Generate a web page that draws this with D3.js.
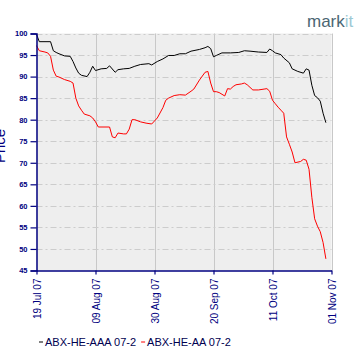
<!DOCTYPE html>
<html>
<head>
<meta charset="utf-8">
<script src="https://cdn.jsdelivr.net/npm/d3@7"></script>
<style>
  body { margin: 0; background: #fff; }
  svg { display: block; }
</style>
</head>
<body>
<div id="chart"></div>
<script>
// ABX-HE-AAA 07-2 (black)
var aaaDates = ["2007-07-19","2007-07-20","2007-07-24","2007-07-25","2007-07-26","2007-07-27","2007-07-29","2007-07-31",
  "2007-08-01","2007-08-02","2007-08-03","2007-08-04","2007-08-06","2007-08-07","2007-08-08","2007-08-09","2007-08-11",
  "2007-08-13","2007-08-14","2007-08-16","2007-08-17","2007-08-19","2007-08-21","2007-08-23","2007-08-25","2007-08-28",
  "2007-08-29","2007-08-31","2007-09-02","2007-09-04","2007-09-06","2007-09-08","2007-09-10","2007-09-12","2007-09-15",
  "2007-09-17","2007-09-18","2007-09-19","2007-09-20","2007-09-21","2007-09-23","2007-09-26","2007-09-29","2007-10-01",
  "2007-10-03","2007-10-06","2007-10-09","2007-10-10","2007-10-11","2007-10-12","2007-10-14","2007-10-15","2007-10-17",
  "2007-10-18","2007-10-20","2007-10-22","2007-10-23","2007-10-24","2007-10-25","2007-10-26","2007-10-27","2007-10-28",
  "2007-10-29","2007-10-30"];
var aaaValues = [99.8,98.1,98.1,96.0,95.6,95.3,94.8,94.7,
  93.5,92.0,90.8,90.3,90.0,91.0,92.4,91.4,91.8,
  91.9,92.5,91.0,91.6,91.8,91.9,92.4,92.8,93.0,
  92.7,93.5,94.1,94.9,94.9,95.3,95.3,95.9,96.3,
  96.7,97.0,96.5,94.6,94.9,95.5,95.5,95.6,96.0,
  95.9,95.7,95.6,96.4,96.0,95.5,95.1,94.3,93.2,
  91.8,91.2,90.8,91.8,91.5,88.0,85.6,85.1,84.3,
  81.5,79.3];

// ABX-HE-AA 07-2 (red)
var aaDates = ["2007-07-19","2007-07-20","2007-07-22","2007-07-23","2007-07-24","2007-07-25","2007-07-26","2007-07-27",
  "2007-07-29","2007-07-31","2007-08-01","2007-08-02","2007-08-03","2007-08-04","2007-08-05","2007-08-07","2007-08-08",
  "2007-08-09","2007-08-10","2007-08-14","2007-08-15","2007-08-16","2007-08-17","2007-08-19","2007-08-20","2007-08-21",
  "2007-08-22","2007-08-23","2007-08-25","2007-08-27","2007-08-29","2007-08-31","2007-09-02","2007-09-03","2007-09-04",
  "2007-09-06","2007-09-08","2007-09-10","2007-09-12","2007-09-13","2007-09-15","2007-09-17","2007-09-18","2007-09-19",
  "2007-09-20","2007-09-21","2007-09-22","2007-09-24","2007-09-25","2007-09-26","2007-09-27","2007-09-28","2007-09-30",
  "2007-10-01","2007-10-02","2007-10-04","2007-10-06","2007-10-08","2007-10-09","2007-10-10","2007-10-11","2007-10-12",
  "2007-10-13","2007-10-14","2007-10-15","2007-10-16","2007-10-17","2007-10-18","2007-10-19","2007-10-21","2007-10-22",
  "2007-10-23","2007-10-24","2007-10-25","2007-10-26","2007-10-27","2007-10-28","2007-10-29","2007-10-30"];
var aaValues = [97.2,96.0,95.7,95.5,94.7,91.5,90.1,89.9,
  89.3,88.9,88.5,85.0,83.2,82.2,81.3,80.9,80.4,
  79.5,78.3,78.3,76.0,75.8,76.9,76.7,76.7,77.8,
  80.0,80.0,79.5,79.2,79.0,80.4,82.8,84.5,85.0,
  85.6,85.8,85.7,86.6,87.1,89.2,91.0,91.2,88.5,
  86.5,86.5,86.3,85.5,87.2,87.1,87.7,88.1,88.3,
  88.5,88.1,86.9,86.9,87.1,87.2,86.6,84.5,83.7,
  82.9,82.2,81.5,76.0,74.3,72.5,70.0,70.3,70.8,
  70.6,68.5,62.0,57.0,55.3,54.0,51.5,47.7];

var seriesNames = ["ABX-HE-AAA 07-2", "ABX-HE-AA 07-2"];
var seriesColors = ["#000000", "#ff0000"];
var xTickDates = ["2007-07-19","2007-08-09","2007-08-30","2007-09-20","2007-10-11","2007-11-01"];
var yTicks = [45,50,55,60,65,70,75,80,85,90,95,100];

var parse = d3.timeParse("%Y-%m-%d");
var fmt = d3.timeFormat("%d %b %y");
var navy = "#000080";

var W = 360, H = 360;
var pL = 36.5, pR = 331.5, pT = 33.5, pB = 270.5;

var svg = d3.select("#chart").append("svg")
    .attr("width", W)
    .attr("height", H);

var x = d3.scaleTime()
    .domain([parse(xTickDates[0]), parse(xTickDates[xTickDates.length - 1])])
    .range([pL, pR]);
var y = d3.scaleLinear()
    .domain([45, 100])
    .range([pB, pT]);

// plot background
svg.append("rect")
    .attr("x", pL).attr("y", pT)
    .attr("width", pR - pL).attr("height", pB - pT)
    .attr("fill", "#eeeeee");

// grid: vertical solid, horizontal dash-dot
svg.append("g").selectAll("line")
    .data(xTickDates.slice(1))
    .enter().append("line")
    .attr("x1", function(d){ return Math.round(x(parse(d))) + 0.5; })
    .attr("x2", function(d){ return Math.round(x(parse(d))) + 0.5; })
    .attr("y1", pT).attr("y2", pB)
    .attr("stroke", "#c8c8c8")
    .attr("stroke-width", 1);

svg.append("g").selectAll("line")
    .data(yTicks.slice(1))
    .enter().append("line")
    .attr("x1", pL).attr("x2", pR)
    .attr("y1", function(d){ return Math.round(y(d)) + 0.5; })
    .attr("y2", function(d){ return Math.round(y(d)) + 0.5; })
    .attr("stroke", "#cccccc")
    .attr("stroke-width", 1)
    .attr("stroke-dasharray", "6,3,2,3");

// lines
var series = [
  {dates: aaaDates, values: aaaValues},
  {dates: aaDates, values: aaValues}
];
var line = d3.line()
    .x(function(d){ return x(d[0]); })
    .y(function(d){ return y(d[1]); });

series.forEach(function(s, i){
  var pts = s.dates.map(function(d, j){ return [parse(d), s.values[j]]; });
  svg.append("path")
      .datum(pts)
      .attr("d", line)
      .attr("fill", "none")
      .attr("stroke", seriesColors[i])
      .attr("stroke-width", 1);
});

// y axis
var yAxis = svg.append("g")
    .attr("transform", "translate(" + pL + ",0)")
    .call(d3.axisLeft(y).tickValues(yTicks).tickSize(6).tickPadding(3));
yAxis.select(".domain").attr("stroke", navy).attr("stroke-width", 1.5);
yAxis.selectAll(".tick line").attr("stroke", navy).attr("stroke-width", 1.2);
yAxis.selectAll("text")
    .attr("fill", navy)
    .style("font-family", "'Liberation Sans', Arial, sans-serif")
    .style("font-size", "7.5px")
    .style("font-weight", "bold");

// x axis
var xAxis = svg.append("g")
    .attr("transform", "translate(0," + pB + ")")
    .call(d3.axisBottom(x).tickValues(xTickDates.map(parse)).tickFormat(fmt).tickSize(4).tickSizeOuter(0));
xAxis.select(".domain").attr("stroke", navy).attr("stroke-width", 1.5);
xAxis.selectAll(".tick line").attr("stroke", navy).attr("stroke-width", 1.2);
xAxis.selectAll("text")
    .attr("fill", navy)
    .style("font-family", "'Liberation Sans', Arial, sans-serif")
    .style("font-size", "10px")
    .attr("text-anchor", "end")
    .attr("transform", "rotate(-90)")
    .attr("x", -8)
    .attr("y", 0)
    .attr("dy", "0.35em");

// y label
svg.append("text")
    .attr("transform", "translate(5,146) rotate(-90)")
    .attr("text-anchor", "middle")
    .attr("fill", navy)
    .style("font-family", "'Liberation Sans', Arial, sans-serif")
    .style("font-size", "15px")
    .text("Price");

// legend
var lg = svg.append("g").attr("transform", "translate(39,342)");
var lx = 0;
seriesNames.forEach(function(name, i){
  lg.append("line")
      .attr("x1", lx).attr("x2", lx + 4)
      .attr("y1", 0).attr("y2", 0)
      .attr("stroke", seriesColors[i])
      .attr("stroke-width", 1);
  var t = lg.append("text")
      .attr("x", lx + 6)
      .attr("y", 4)
      .attr("fill", "#000050")
      .style("font-family", "'Liberation Sans', Arial, sans-serif")
      .style("font-size", "11px")
      .text(name);
  lx += 6 + t.node().getComputedTextLength() + 5;
});

// logo
var logo = svg.append("text")
    .attr("x", 307).attr("y", 27)
    .style("font-family", "'Liberation Sans', Arial, sans-serif")
    .style("font-size", "17px");
logo.append("tspan").attr("fill", "#4b6673").text("mark");
logo.append("tspan").attr("fill", "#9cc9d4").text("it");
</script>
</body>
</html>
